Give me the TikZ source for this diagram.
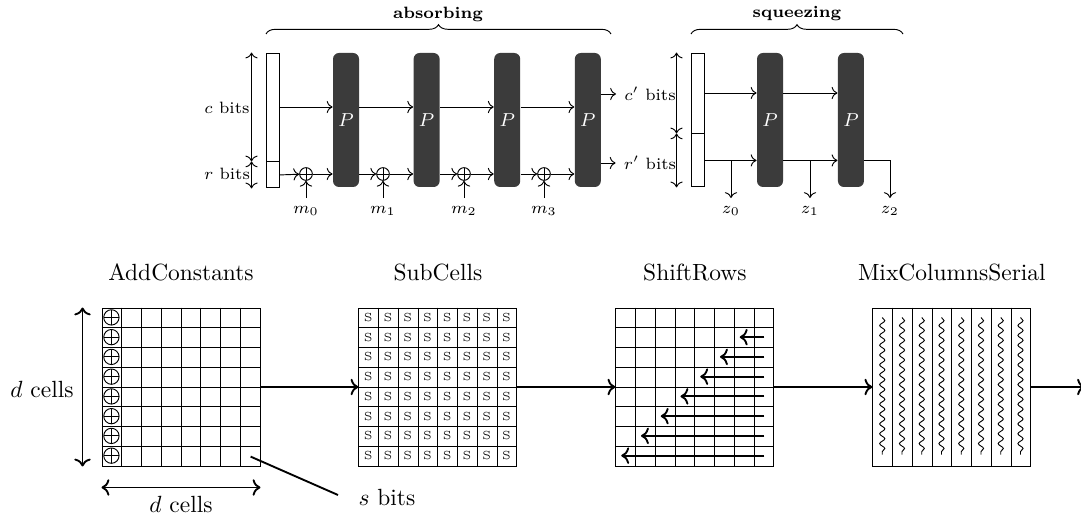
\documentclass[tikz,border=0pt]{standalone}
\usepackage{amsmath}
\usetikzlibrary{arrows.meta, positioning, calc, decorations.pathreplacing, decorations.pathmorphing}

\definecolor{permgray}{HTML}{3B3B3B}

\tikzset{
  statebox/.style={draw, inner sep=0pt, minimum width=0.195cm},
  perm/.style={fill=permgray, rounded corners=0.9mm, inner sep=0pt,
    minimum width=0.39cm, minimum height=2.01cm, text=white, font=\footnotesize},
  xorc/.style={circle, draw, inner sep=0pt, minimum size=#1,
    path picture={\draw (path picture bounding box.north) -- (path picture bounding box.south)
      (path picture bounding box.west) -- (path picture bounding box.east);}},
  xorc/.default=0.19cm,
  cellgrid/.style={draw, inner sep=0pt, minimum size=2.37cm},
  bracetop/.style={decorate, decoration={brace, amplitude=4pt}},
}

\begin{document}
\begin{tikzpicture}[
>=To,
x=0.015cm, y=-0.015cm,
]
\useasboundingbox (0,0) rectangle (1081,516);

% absorbing
\begin{scope}[font=\scriptsize]
\node[statebox, minimum height=1.62cm] (C0) at (272.5,107) {};
\node[statebox, minimum height=0.39cm, below=0pt of C0] (R0) {};

\node[perm] (P1) at (346,120) {$P$};
\node[perm, right=0.805cm of P1] (P2) {$P$};
\node[perm, right=0.805cm of P2] (P3) {$P$};
\node[perm, right=0.805cm of P3] (P4) {$P$};

\node[xorc] (X0) at (306,174) {};
\node[xorc] (X1) at (383,174) {};
\node[xorc] (X2) at (464,174) {};
\node[xorc] (X3) at (544,174) {};

\node (M0) at (306,211) {$m_0$};
\node (M1) at (383,211) {$m_1$};
\node (M2) at (464,211) {$m_2$};
\node (M3) at (544,211) {$m_3$};

\node (CB) at (227,108) {$c$ bits};
\node (RB) at (227,174) {$r$ bits};
\node (CO) at (650,94) {$c'$ bits};
\node (RO) at (650,163) {$r'$ bits};

\node (AB) at (438,14) {\textbf{absorbing}};
\draw[bracetop] (266,34) -- (611,34);

% Arrows
\draw[<->] ([xshift=-0.21cm]C0.north west) -- ([xshift=-0.21cm]C0.south west);
\draw[<->] ([xshift=-0.21cm]R0.north west) -- ([xshift=-0.21cm]R0.south west);

\draw[->] (C0.east) -- (C0.east -| P1.west);
\draw[->] (P1.east |- C0.east) -- (C0.east -| P2.west);
\draw[->] (P2.east |- C0.east) -- (C0.east -| P3.west);
\draw[->] (P3.east |- C0.east) -- (C0.east -| P4.west);

\draw[->] (R0.east) -- (X0);
\draw[->] (X0) -- (X0 -| P1.west);
\draw[->] (P1.east |- X1) -- (X1);
\draw[->] (X1) -- (X1 -| P2.west);
\draw[->] (P2.east |- X2) -- (X2);
\draw[->] (X2) -- (X2 -| P3.west);
\draw[->] (P3.east |- X3) -- (X3);
\draw[->] (X3) -- (X3 -| P4.west);

\draw[->] (M0) -- (X0);
\draw[->] (M1) -- (X1);
\draw[->] (M2) -- (X2);
\draw[->] (M3) -- (X3);

\draw[->] (P4.east |- CO) -- (CO);
\draw[->] (P4.east |- RO) -- (RO);

% squeezing
\node[statebox, minimum height=1.2cm] (C1) at (697.5,93) {};
\node[statebox, minimum height=0.795cm, below=0pt of C1] (R1) {};

\node[perm] (Q1) at (770,120) {$P$};
\node[perm, right=0.81cm of Q1] (Q2) {$P$};

\node (Z0) at (731,211) {$z_0$};
\node (Z1) at (810,211) {$z_1$};
\node (Z2) at (890,211) {$z_2$};

\node (SQ) at (797,14) {\textbf{squeezing}};
\draw[bracetop] (691,34) -- (903,34);

% Arrows
\draw[<->] ([xshift=-0.21cm]C1.north west) -- ([xshift=-0.21cm]C1.south west);
\draw[<->] ([xshift=-0.21cm]R1.north west) -- ([xshift=-0.21cm]R1.south west);

\draw[->] (C1.east) -- (C1.east -| Q1.west);
\draw[->] (Q1.east |- C1.east) -- (C1.east -| Q2.west);
\draw[->] (R1.east) -- (R1.east -| Q1.west);
\draw[->] (Q1.east |- R1.east) -- (R1.east -| Q2.west);
\draw[->] (Q2.east |- R1.east) -| (Z2);
\draw[->] (Z0 |- R1.east) -- (Z0);
\draw[->] (Z1 |- R1.east) -- (Z1);
\end{scope}

% round function
\node[cellgrid] (AC) at (181,387) {};
\node[cellgrid, right=1.47cm of AC] (SC) {};
\node[cellgrid, right=1.47cm of SC] (SR) {};
\node[cellgrid, right=1.47cm of SR] (MC) {};

\node[above=0.28cm of AC] (ACt) {AddConstants};
\node[above=0.28cm of SC] (SCt) {SubCells};
\node[above=0.28cm of SR] (SRt) {ShiftRows};
\node[above=0.28cm of MC] (MCt) {MixColumnsSerial};

\foreach \g in {AC,SC,SR} {
  \foreach \k in {1,...,7} {
    \draw ($(\g.north west)!\k/8!(\g.north east)$) -- ($(\g.south west)!\k/8!(\g.south east)$);
    \draw ($(\g.north west)!\k/8!(\g.south west)$) -- ($(\g.north east)!\k/8!(\g.south east)$);
  }
}
\foreach \k in {1,...,7}
  \draw ($(MC.north west)!\k/8!(MC.north east)$) -- ($(MC.south west)!\k/8!(MC.south east)$);

% constants, sboxes, shifts, mixing
\foreach \k in {0,...,7}
  \node[xorc=0.23cm] (A\k) at ($(AC.north west)+(9.875,9.875+19.75*\k)$) {};

\foreach \r in {0,...,7}
  \foreach \c in {0,...,7}
    \node[font=\tiny, inner sep=0pt] (S\r\c) at ($(SC.north west)+(9.875+19.75*\c,9.875+19.75*\r)$) {S};

\foreach \r in {1,...,7}
  \draw[thick, ->] ($(SR.north east)+(-9.875,9.875+19.75*\r)$) -- ++({-19.75*\r-5},0);

\foreach \c in {0,...,7}
  \draw[decorate, decoration={snake, amplitude=1.1pt, segment length=4.2pt}]
    ($(MC.north west)+(9.875+19.75*\c,10)$) -- ++(0,137);

% Arrows
\coordinate (OUT) at (1085,387);
\draw[thick, ->] (AC) -- (SC);
\draw[thick, ->] (SC) -- (SR);
\draw[thick, ->] (SR) -- (MC);
\draw[thick, ->] (MC) -- (OUT);

\node (DL) at (42,389) {$d$ cells};
\node (DB) at (181,504) {$d$ cells};
\draw[thick, <->] ([xshift=-0.285cm]AC.north west) -- ([xshift=-0.285cm]AC.south west);
\draw[thick, <->] ([yshift=-0.315cm]AC.south west) -- ([yshift=-0.315cm]AC.south east);

\node (SB) at (387,497) {$s$ bits};
\coordinate (LC) at ($(AC.south east)+(-9.875,-9.875)$);
\coordinate (SBend) at (338,495);
\draw[thick] (LC) -- (SBend);

\end{tikzpicture}
\end{document}
